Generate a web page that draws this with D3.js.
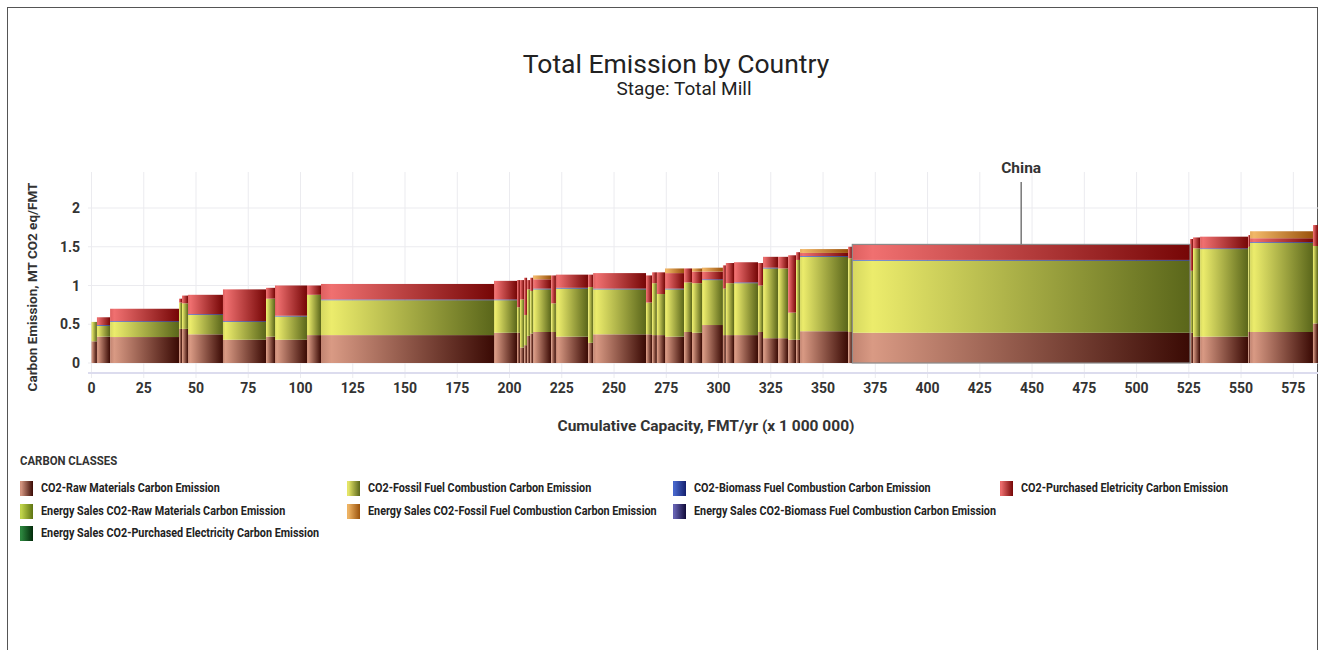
<!DOCTYPE html>
<html>
<head>
<meta charset="utf-8">
<script src="https://cdn.jsdelivr.net/npm/d3@7"></script>
<style>
  body { margin: 0; background: #fff; }
  text { font-family: Roboto, "Open Sans", sans-serif; }
</style>
</head>
<body>
<svg id="chart" width="1324" height="650"></svg>
<script>
// capacity of each block (x 1 000 000 FMT/yr), in order along the axis
const capacities = [2.6, 6.3, 33.0, 1.4, 2.9, 16.7, 20.6, 4.3, 15.3, 6.7,
  82.8, 11.0, 1.4, 2.0, 1.4, 1.5, 1.4, 8.6, 2.3, 15.4,
  2.4, 25.3, 2.9, 2.3, 3.9, 9.1, 3.8, 4.8, 10.0, 1.4,
  3.9, 11.5, 2.4, 7.2, 4.8, 3.8, 1.9, 23.0, 2.0, 161.6,
  1.4, 3.4, 23.0, 0.9, 30.1, 2.4, 1.0];

// emission per class, MT CO2 eq/FMT
const rawMaterials = [0.28, 0.34, 0.335, 0.44, 0.44, 0.37, 0.30, 0.34, 0.30, 0.36,
  0.36, 0.39, 0.39, 0.20, 0.23, 0.35, 0.38, 0.40, 0.40, 0.34,
  0.26, 0.37, 0.37, 0.36, 0.36, 0.34, 0.40, 0.39, 0.49, 0.36,
  0.36, 0.36, 0.40, 0.32, 0.32, 0.30, 0.30, 0.41, 0.40, 0.39,
  0.39, 0.34, 0.34, 0.40, 0.40, 0.51, 0.30];
const fossilFuel = [0.25, 0.14, 0.195, 0.34, 0.33, 0.25, 0.23, 0.49, 0.30, 0.52,
  0.45, 0.42, 0.33, 0.62, 0.39, 0.60, 0.55, 0.55, 0.37, 0.62,
  0.72, 0.58, 0.41, 0.67, 0.53, 0.61, 0.64, 0.64, 0.58, 0.60,
  0.67, 0.67, 0.60, 0.90, 0.90, 0.35, 1.03, 0.96, 0.95, 0.93,
  0.80, 1.14, 1.13, 1.10, 1.15, 1.00, 1.96];
const biomassFuel = [0, 0.01, 0.01, 0, 0, 0.01, 0.01, 0, 0.01, 0,
  0.01, 0.01, 0, 0, 0, 0, 0, 0.01, 0, 0.01,
  0, 0.01, 0, 0, 0, 0.01, 0, 0, 0.01, 0,
  0, 0.01, 0, 0.01, 0, 0, 0, 0.01, 0, 0.01,
  0, 0, 0.01, 0, 0.01, 0, 0];
const electricity = [0, 0.10, 0.16, 0.05, 0.10, 0.25, 0.41, 0.14, 0.39, 0.12,
  0.20, 0.24, 0.35, 0.25, 0.48, 0.12, 0.17, 0.12, 0.36, 0.17,
  0.16, 0.20, 0.35, 0.14, 0.28, 0.20, 0.18, 0.15, 0.10, 0.30,
  0.26, 0.26, 0.29, 0.14, 0.15, 0.74, 0.10, 0.04, 0.15, 0.20,
  0.41, 0.14, 0.15, 0.15, 0.05, 0.27, 0];
const salesFossilFuel = [0, 0, 0, 0, 0, 0, 0, 0, 0, 0,
  0, 0, 0, 0, 0, 0, 0, 0.05, 0, 0,
  0, 0, 0, 0, 0, 0.06, 0, 0.04, 0.05, 0,
  0, 0, 0, 0, 0, 0, 0, 0.05, 0, 0,
  0, 0, 0, 0, 0.09, 0, 0];

const highlightName = 'China';
const highlightIndex = 39;

const xTicks = d3.range(0, 576, 25);
const yTicks = [0, 0.5, 1, 1.5, 2];

const legendLabels = [
  'CO2-Raw Materials Carbon Emission',
  'CO2-Fossil Fuel Combustion Carbon Emission',
  'CO2-Biomass Fuel Combustion Carbon Emission',
  'CO2-Purchased Eletricity Carbon Emission',
  'Energy Sales CO2-Raw Materials Carbon Emission',
  'Energy Sales CO2-Fossil Fuel Combustion Carbon Emission',
  'Energy Sales CO2-Biomass Fuel Combustion Carbon Emission',
  'Energy Sales CO2-Purchased Electricity Carbon Emission'
];
// legend grid slot (column, row) for each label
const legendSlots = [[0, 0], [1, 0], [2, 0], [3, 0], [0, 1], [1, 1], [2, 1], [0, 2]];

// light / dark ends of each class gradient
const palette = [
  ['#d99a84', '#3a0a04'],
  ['#ecec6c', '#5a661a'],
  ['#4a6ad0', '#14206e'],
  ['#f07070', '#760606'],
  ['#c4d84c', '#5e7412'],
  ['#f2b868', '#9a520c'],
  ['#6a66b8', '#100a38'],
  ['#2e8a40', '#022a0a']
];

const svg = d3.select('#chart');
const defs = svg.append('defs');

palette.forEach((c, i) => {
  const g = defs.append('linearGradient').attr('id', 'grad' + i)
    .attr('x1', 0).attr('x2', 1).attr('y1', 0).attr('y2', 0);
  g.append('stop').attr('offset', '0%').attr('stop-color', d3.interpolateRgb(c[0], c[1])(0.15));
  g.append('stop').attr('offset', '6%').attr('stop-color', c[0]);
  g.append('stop').attr('offset', '100%').attr('stop-color', c[1]);
});

// outer frame
svg.append('rect')
  .attr('x', 7.5).attr('y', 7.5).attr('width', 1310).attr('height', 660)
  .attr('fill', 'none').attr('stroke', '#555').attr('stroke-width', 1);

svg.append('text').attr('x', 676).attr('y', 73)
  .attr('text-anchor', 'middle').attr('font-size', 26.5).attr('fill', '#222')
  .text('Total Emission by Country');
svg.append('text').attr('x', 684).attr('y', 95)
  .attr('text-anchor', 'middle').attr('font-size', 19).attr('fill', '#222')
  .text('Stage: Total Mill');

const plotTop = 172, plotBottom = 373;
const x = d3.scaleLinear().domain([0, 588]).range([91.5, 1320.5]);
const y = d3.scaleLinear().domain([0, 2]).range([363, 208]);

defs.append('clipPath').attr('id', 'plotClip')
  .append('rect').attr('x', 88).attr('y', 150).attr('width', 1230).attr('height', 230);

// grid
const grid = svg.append('g');
grid.selectAll('.vg').data(xTicks).enter().append('line')
  .attr('x1', d => x(d)).attr('x2', d => x(d))
  .attr('y1', plotTop).attr('y2', plotBottom + 5)
  .attr('stroke', '#ebebef').attr('stroke-width', 1);
grid.selectAll('.hg').data(yTicks).enter().append('line')
  .attr('x1', 88).attr('x2', 1318)
  .attr('y1', d => y(d)).attr('y2', d => y(d))
  .attr('stroke', '#ebebef').attr('stroke-width', 1);
grid.append('line').attr('x1', 88).attr('x2', 1318)
  .attr('y1', plotBottom).attr('y2', plotBottom)
  .attr('stroke', '#dcdcee').attr('stroke-width', 2);

// stack the blocks
const series = [rawMaterials, fossilFuel, biomassFuel, electricity, null, salesFossilFuel];
const segments = [];
let cum = 0;
capacities.forEach((w, i) => {
  let base = 0;
  series.forEach((s, k) => {
    if (!s) return;
    const v = s[i];
    if (v > 0) segments.push({ x0: cum, x1: cum + w, y0: base, y1: base + v, k: k, i: i });
    base += v;
  });
  cum += w;
});

const bars = svg.append('g').attr('clip-path', 'url(#plotClip)');
bars.selectAll('rect').data(segments).enter().append('rect')
  .attr('x', d => x(d.x0))
  .attr('width', d => Math.max(0.6, x(d.x1) - x(d.x0)))
  .attr('y', d => y(d.y1))
  .attr('height', d => Math.max(0.8, y(d.y0) - y(d.y1)))
  .attr('fill', d => 'url(#grad' + d.k + ')');

// highlighted country
const hx0 = d3.sum(capacities.slice(0, highlightIndex));
const hx1 = hx0 + capacities[highlightIndex];
const hTop = rawMaterials[highlightIndex] + fossilFuel[highlightIndex] + biomassFuel[highlightIndex]
  + electricity[highlightIndex] + salesFossilFuel[highlightIndex];
svg.append('rect')
  .attr('x', x(hx0)).attr('y', y(hTop))
  .attr('width', x(hx1) - x(hx0)).attr('height', y(0) - y(hTop))
  .attr('fill', 'none').attr('stroke', '#8a8a8a').attr('stroke-width', 1.2);
const hxm = x((hx0 + hx1) / 2);
svg.append('line').attr('x1', hxm).attr('x2', hxm)
  .attr('y1', 182).attr('y2', y(hTop))
  .attr('stroke', '#777').attr('stroke-width', 1.5);
svg.append('text').attr('x', hxm).attr('y', 173)
  .attr('text-anchor', 'middle').attr('font-size', 15.5).attr('font-weight', 'bold').attr('fill', '#333')
  .text(highlightName);

// axes labels
svg.append('g').selectAll('text').data(xTicks).enter().append('text')
  .attr('x', d => x(d)).attr('y', 393)
  .attr('text-anchor', 'middle').attr('font-size', 14).attr('font-weight', 'bold').attr('fill', '#333')
  .text(d => d);
svg.append('g').selectAll('text').data(yTicks).enter().append('text')
  .attr('x', 80).attr('y', d => y(d) + 5)
  .attr('text-anchor', 'end').attr('font-size', 14).attr('font-weight', 'bold').attr('fill', '#333')
  .text(d => d);

svg.append('text').attr('x', 706).attr('y', 431)
  .attr('text-anchor', 'middle').attr('font-size', 15.5).attr('font-weight', 'bold').attr('fill', '#333')
  .text('Cumulative Capacity, FMT/yr (x 1 000 000)');
svg.append('text')
  .attr('transform', 'translate(37,287) rotate(-90)')
  .attr('text-anchor', 'middle').attr('font-size', 13.5).attr('font-weight', 'bold').attr('fill', '#333')
  .text('Carbon Emission, MT CO2 eq/FMT');

// legend (condensed bold text)
const legend = svg.append('g');
legend.append('text').attr('transform', 'translate(20,465) scale(0.95,1)')
  .attr('font-size', 12).attr('font-weight', 'bold').attr('fill', '#333')
  .text('CARBON CLASSES');
const colX = [20, 347, 673, 1000];
const rowY = [488, 511, 533];
legendLabels.forEach((label, i) => {
  const gx = colX[legendSlots[i][0]], gy = rowY[legendSlots[i][1]];
  legend.append('rect').attr('x', gx).attr('y', gy - 7).attr('width', 13).attr('height', 15)
    .attr('fill', 'url(#grad' + i + ')');
  legend.append('text').attr('transform', 'translate(' + (gx + 21) + ',' + (gy + 4) + ') scale(0.865,1)')
    .attr('font-size', 12.5).attr('font-weight', 'bold').attr('fill', '#222')
    .text(label);
});
</script>
</body>
</html>
